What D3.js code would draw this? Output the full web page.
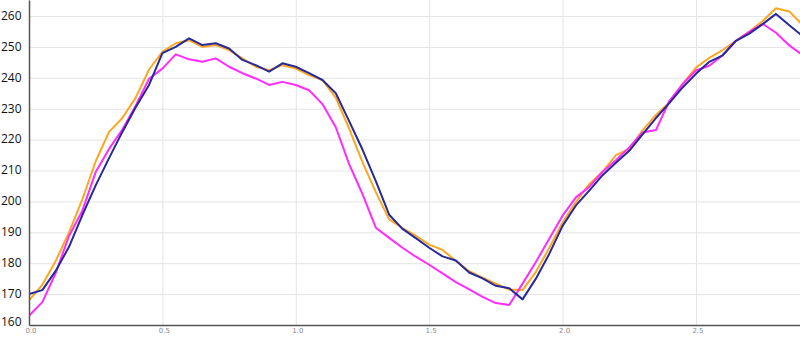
<!DOCTYPE html>
<html>
<head>
<meta charset="utf-8">
<script src="https://cdn.jsdelivr.net/npm/d3@7"></script>
<style>
  body { margin: 0; background: #fff; }
  .grid line { stroke: #e4e4e4; stroke-width: 1; }
  .grid path { display: none; }
  .line { fill: none; stroke-width: 2; stroke-linejoin: round; }
</style>
</head>
<body>
<div id="main"></div>
<script>

var width = 800,
    height = 337;

var margin = { top: 0, right: 0, bottom: 12, left: 29 };

// sample positions, every 0.05
var xs = [];
for (var i = 0; i <= 58; i++) xs.push(+(i * 0.05).toFixed(2));

var blue = [
    170.0, 171.3, 177.5, 185.3, 195.6, 205.2, 214.0, 222.5, 230.5, 237.7,
    248.0, 250.0, 252.8, 250.6, 251.2, 249.5, 245.8, 244.1, 242.0, 244.7,
    243.6, 241.5, 239.3, 235.0, 226.0, 216.8, 206.6, 195.7, 191.1, 188.1,
    185.0, 182.2, 180.9, 177.0, 175.1, 172.7, 171.9, 168.3, 175.0, 183.0,
    192.1, 198.7, 203.5, 208.5, 212.5, 216.4, 221.7, 227.0, 231.8, 236.9,
    241.3, 245.2, 247.3, 252.0, 254.3, 257.4, 260.7, 257.0, 253.5
];

var orange = [
    168.0, 173.0, 180.7, 190.0, 200.7, 213.0, 222.5, 227.0, 233.6, 242.7,
    248.4, 251.2, 252.2, 250.0, 250.6, 249.0, 246.3, 243.6, 242.5, 244.1,
    243.0, 240.9, 239.3, 233.5, 223.6, 212.7, 203.0, 194.2, 191.4, 188.9,
    186.0, 184.3, 180.7, 177.4, 175.3, 173.4, 171.5, 171.3, 177.2, 184.9,
    193.2, 199.8, 205.6, 209.6, 215.0, 217.0, 223.0, 228.0, 232.0, 238.0,
    243.3, 246.5, 249.0, 252.0, 255.0, 258.4, 262.5, 261.5, 257.0
];

var magenta = [
    163.0, 167.4, 176.8, 188.8, 197.0, 209.5, 217.0, 223.3, 231.0, 239.7,
    243.0, 247.6, 246.0, 245.2, 246.3, 243.6, 241.5, 239.8, 237.7, 238.7,
    237.7, 236.0, 231.5, 224.0, 212.1, 202.4, 191.5, 188.2, 185.0, 182.1,
    179.5, 176.7, 173.9, 171.5, 169.1, 167.1, 166.5, 173.4, 180.4, 187.9,
    195.4, 201.3, 204.7, 209.6, 213.3, 217.5, 222.3, 223.1, 232.5, 238.0,
    242.4, 243.9, 247.3, 252.0, 254.9, 257.5, 254.6, 250.5, 247.3
];

var yTicks = [160, 170, 180, 190, 200, 210, 220, 230, 240, 250, 260];
var xTicks = [0, 0.5, 1.0, 1.5, 2.0, 2.5];

var series = [
    { name: "orange", color: "#ffa621", values: orange },
    { name: "magenta", color: "#ff2bff", values: magenta },
    { name: "blue", color: "#27299a", values: blue }
];

var svg = d3.select("div#main")
    .append("svg")
    .attr("width", width)
    .attr("height", height);

var x = d3.scaleLinear()
    .domain([0, 2.89])
    .range([margin.left, width - margin.right]);

var y = d3.scaleLinear()
    .domain([160, 265.2])
    .range([height - margin.bottom, margin.top]);

// grid (no labels)
svg.append("g")
    .attr("class", "grid")
    .attr("transform", `translate(${margin.left},0)`)
    .call(d3.axisLeft(y).tickValues(yTicks).tickSize(-(width - margin.left)))
    .selectAll("text").remove();

svg.append("g")
    .attr("class", "grid")
    .attr("transform", `translate(0,${height - margin.bottom})`)
    .call(d3.axisBottom(x).tickValues(xTicks).tickSize(-(height - margin.bottom)))
    .selectAll("text").remove();

// lines
var line = d3.line()
    .x(function(d, i) { return x(xs[i]); })
    .y(function(d) { return y(d); });

svg.append("defs").append("clipPath")
    .attr("id", "clip")
    .append("rect")
    .attr("x", margin.left)
    .attr("y", 0)
    .attr("width", width - margin.left)
    .attr("height", height - margin.bottom);

svg.selectAll(".line")
    .data(series)
    .enter().append("path")
    .attr("class", "line")
    .attr("clip-path", "url(#clip)")
    .attr("stroke", function(d) { return d.color; })
    .attr("d", function(d) { return line(d.values); });

// axes
var yAxis = svg.append("g")
    .attr("transform", `translate(${margin.left},0)`)
    .call(d3.axisLeft(y).tickValues(yTicks).tickSize(0).tickFormat(""));
yAxis.selectAll("text").remove();
yAxis.select(".domain").attr("stroke", "#555").attr("stroke-width", 1.5);

svg.append("g").selectAll("text")
    .data(yTicks)
    .enter().append("text")
    .attr("x", 1)
    .attr("y", function(d) { return y(d); })
    .attr("dy", function(d) { return d === 160 ? "0.1em" : "0.32em"; })
    .attr("fill", "#111")
    .style("font-family", "'Open Sans', sans-serif")
    .style("font-size", "12px")
    .text(function(d) { return d; });

var xAxis = svg.append("g")
    .attr("transform", `translate(0,${height - margin.bottom})`)
    .call(d3.axisBottom(x).tickValues(xTicks).tickSize(0).tickPadding(3).tickFormat(d3.format(".1f")));
xAxis.select(".domain").attr("stroke", "#555").attr("stroke-width", 1.5);
xAxis.selectAll("text")
    .attr("x", 1.5)
    .attr("fill", "#888")
    .style("font-family", "'DejaVu Sans', sans-serif")
    .style("font-size", "7px");

</script>
</body>
</html>
